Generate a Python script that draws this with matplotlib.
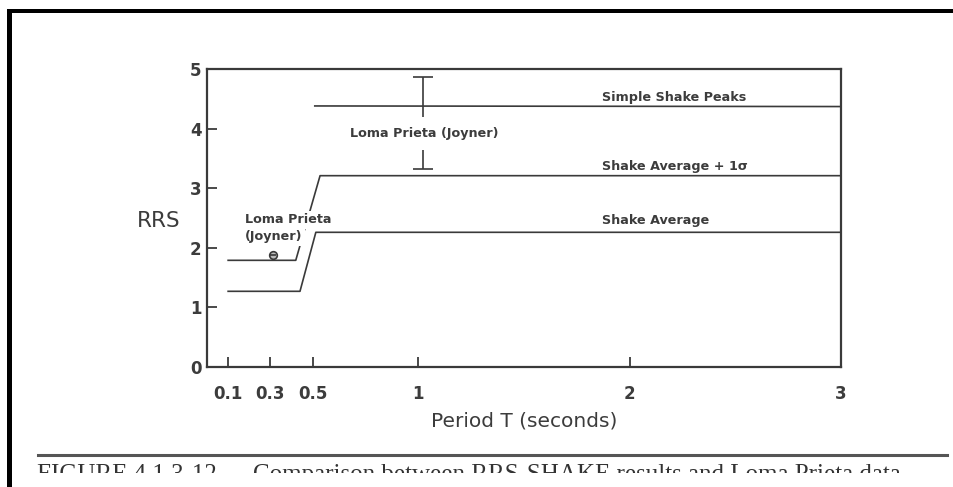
import matplotlib
matplotlib.use("Agg")
import matplotlib.pyplot as plt
from matplotlib.lines import Line2D
from matplotlib.patches import Rectangle

# ---- data ----
period_avg = [0.10, 0.44, 0.515, 3.0]
rrs_avg = [1.27, 1.27, 2.26, 2.26]

period_avg1s = [0.10, 0.42, 0.535, 3.0]
rrs_avg1s = [1.79, 1.79, 3.21, 3.21]

period_peaks = [0.51, 3.0]
rrs_peaks = [4.38, 4.37]

loma_err_T = 1.02
loma_err_lo = 3.33
loma_err_hi = 4.86

loma_pt_T = [0.31]
loma_pt_rrs = [1.88]

xticks = [0.1, 0.3, 0.5, 1, 2, 3]
xticklabels = ["0.1", "0.3", "0.5", "1", "2", "3"]
yticks = [0, 1, 2, 3, 4, 5]

INK = "#3a3a3a"
TXT = "#3c3c3c"

fig = plt.figure(figsize=(9.54, 4.87), dpi=100)
fig.patch.set_facecolor("white")
ax = fig.add_axes([207/954, 1-367/487, (841-207)/954, (367-69)/487])

ax.plot(period_avg, rrs_avg, color=INK, lw=1.2, zorder=2)
ax.plot(period_avg1s, rrs_avg1s, color=INK, lw=1.2, zorder=2)
ax.plot(period_peaks, rrs_peaks, color=INK, lw=1.2, zorder=2)

mid = (loma_err_lo + loma_err_hi) / 2
ax.errorbar([loma_err_T], [mid], yerr=[[mid - loma_err_lo], [loma_err_hi - mid]],
            fmt="none", ecolor=INK, elinewidth=1.2, capsize=7, capthick=1.2, zorder=2)

ax.plot(loma_pt_T, loma_pt_rrs, marker="o", ms=5.5, mfc="#bbbbbb", mec=INK, mew=1.2,
        ls="none", zorder=4)
ax.plot(loma_pt_T, loma_pt_rrs, marker="_", ms=4.5, mec=INK, mew=1.2, ls="none", zorder=5)

ax.set_xlim(0, 3)
ax.set_ylim(0, 5)
ax.set_xticks(xticks)
ax.set_xticklabels(xticklabels)
ax.set_yticks(yticks)
ax.tick_params(axis="both", direction="in", length=7, width=1.3, color=INK,
               labelcolor=TXT, labelsize=12)
ax.tick_params(axis="x", pad=13)
ax.tick_params(axis="y", pad=4)
for lab in ax.get_xticklabels() + ax.get_yticklabels():
    lab.set_fontweight("bold")
for s in ax.spines.values():
    s.set_color(INK)
    s.set_linewidth(1.6)

ax.set_xlabel("Period T (seconds)", fontsize=14.5, color=TXT, labelpad=6)
ax.text(-0.228, 2.45, "RRS", fontsize=15.5, color=TXT, ha="center", va="center",
        transform=ax.transData, clip_on=False)

annot = dict(fontsize=9.2, fontweight="bold", color=TXT, zorder=3)
ax.text(1.87, 4.53, "Simple Shake Peaks", ha="left", va="center", **annot)
ax.text(1.87, 3.36, "Shake Average + 1\u03c3", ha="left", va="center", **annot)
ax.text(1.87, 2.45, "Shake Average", ha="left", va="center", **annot)

ax.text(1.03, 3.92, "Loma Prieta (Joyner)", ha="center", va="center",
        bbox=dict(facecolor="white", edgecolor="none", boxstyle="square,pad=0.8"), **annot)
ax.text(0.18, 2.47, "Loma Prieta", ha="left", va="center",
        bbox=dict(facecolor="white", edgecolor="none", boxstyle="square,pad=0.2"), **annot)
ax.text(0.18, 2.19, "(Joyner)", ha="left", va="center",
        bbox=dict(facecolor="white", edgecolor="none", boxstyle="square,pad=0.2"), **annot)

# ---- scanned page elements: rule, clipped caption, frame ----
W, H = 954, 487
def fx(px): return px / W
def fy(py): return 1 - py / H

fig.add_artist(Line2D([fx(38), fx(947)], [fy(455), fy(455)], color="#555555", lw=2.2,
                      transform=fig.transFigure))
fig.text(fx(37), fy(481), "FIGURE 4.1.3-12", fontsize=18, family="Liberation Serif",
         color="#333333", ha="left", va="baseline")
fig.text(fx(253), fy(481), "Comparison between RRS-SHAKE results and Loma Prieta data",
         fontsize=18, family="Liberation Serif", color="#333333", ha="left", va="baseline")
fig.add_artist(Rectangle((0, 0), 1, fy(472.5), facecolor="white", edgecolor="none",
                         transform=fig.transFigure, zorder=10))
fig.add_artist(Rectangle((fx(7), 0), fx(5), 1 - 9/H, facecolor="black", edgecolor="none",
                         transform=fig.transFigure, zorder=11))
fig.add_artist(Rectangle((fx(7), fy(13)), 1, 4/H, facecolor="black", edgecolor="none",
                         transform=fig.transFigure, zorder=11))

fig.savefig("out.png", dpi=100, facecolor="white")
